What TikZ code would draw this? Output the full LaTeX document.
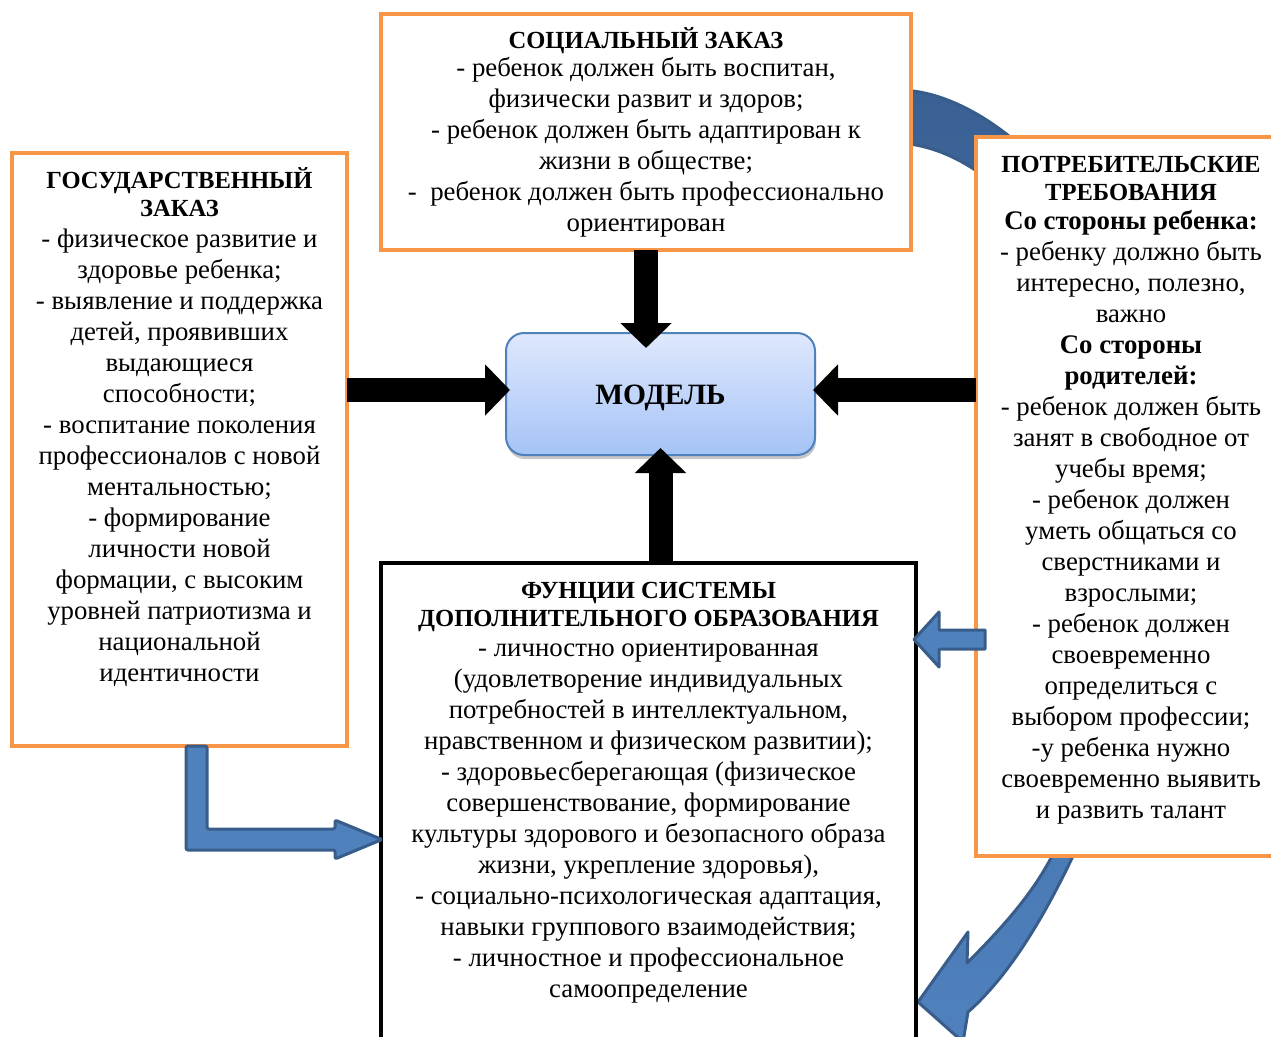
\documentclass[tikz,border=0pt]{standalone}
\usepackage{fontspec}
\setmainfont{Liberation Serif}
\usetikzlibrary{arrows.meta,positioning,shadows}
\definecolor{boxorange}{HTML}{F79646}
\definecolor{arrowblue}{HTML}{4F81BD}
\definecolor{arrowedge}{HTML}{385D8A}
\definecolor{arrowdark}{HTML}{3A6194}
\definecolor{modeltop}{HTML}{DFE8FD}
\definecolor{modelbottom}{HTML}{A5C3F7}
\newcommand{\headsize}{\fontsize{24.6}{28}\selectfont\bfseries}
\newcommand{\bodysize}{\fontsize{26.8}{31}\selectfont}

\tikzset{
  orangebox/.style={draw=boxorange, line width=4pt, fill=white, anchor=north west, inner sep=0pt, outer sep=0pt},
  blackbox/.style={draw=black, line width=4pt, fill=white, anchor=north west, inner sep=0pt, outer sep=0pt},
  modelbox/.style={draw=arrowblue, line width=2pt, rounded corners=18pt, top color=modeltop, bottom color=modelbottom,
    drop shadow={shadow xshift=1pt, shadow yshift=-4pt, opacity=0.45}, font=\fontsize{29.5}{34}\selectfont\bfseries,
    text height=20pt, text depth=0pt, outer sep=0pt},
  headtext/.style={font=\headsize, align=center, inner sep=0pt},
  bodytext/.style={font=\bodysize, align=center, inner sep=0pt},
  blockarrow/.style={line width=24pt, black, -{Triangle[length=25pt,width=50pt]}},
  bluearrow/.style={fill=arrowblue, draw=arrowedge, line width=3pt, line join=round},
  curvearrow/.style={draw=arrowedge, line width=3pt, line join=round, top color=arrowdark, middle color=arrowblue, bottom color=arrowblue}
}

\begin{document}
\begin{tikzpicture}[x=1pt, y=-1pt]
\useasboundingbox (0,0) rectangle (1271,1036);

% curved arrow, mostly hidden behind the consumer box
\path[curvearrow] (900,90) .. controls (1010,92) and (1165,260) .. (1165,480)
  .. controls (1165,660) and (1110,790) .. (1073,856)
  .. controls (1045,915) and (1010,975) .. (968,1012)
  -- (963,1042) -- (918,1002) -- (968,932) -- (967,963)
  .. controls (1000,930) and (1032,895) .. (1052,856)
  .. controls (1090,780) and (1115,650) .. (1115,480)
  .. controls (1115,300) and (1010,150) .. (900,143) -- cycle;

% boxes
\node[orangebox, minimum width=530, minimum height=236] (social) at (381,14) {};
\node[orangebox, minimum width=335, minimum height=593] (govbox) at (12,153) {};
\node[orangebox, minimum width=310, minimum height=719] (consumer) at (976,137) {};
\node[blackbox, minimum width=535, minimum height=560] (func) at (381,563) {};
\node[modelbox, minimum width=309, minimum height=122] (model) at (660.5,394) {МОДЕЛЬ};

% texts
\node[headtext, below=13.8pt of social.north] (socialhead) {\strut СОЦИАЛЬНЫЙ ЗАКАЗ};
\node[bodytext, below=41pt of social.north] (socialtext) {\strut- ребенок должен быть воспитан,\\
  физически развит и здоров;\\
  - ребенок должен быть адаптирован к\\
  жизни в обществе;\\
  - \ ребенок должен быть профессионально\\
  ориентирован};

\node[headtext, below=14pt of govbox.north] (govhead) {\strut ГОСУДАРСТВЕННЫЙ\\ ЗАКАЗ};
\node[bodytext, below=73pt of govbox.north] (govtext) {\strut- физическое развитие и\\
  здоровье ребенка;\\
  - выявление и поддержка\\
  детей, проявивших\\
  выдающиеся\\
  способности;\\
  - воспитание поколения\\
  профессионалов с новой\\
  ментальностью;\\
  - формирование\\
  личности новой\\
  формации, с высоким\\
  уровней патриотизма и\\
  национальной\\
  идентичности};

\node[headtext, below=15.4pt of consumer.north] (consumerhead) {\strut ПОТРЕБИТЕЛЬСКИЕ\\ ТРЕБОВАНИЯ};
\node[bodytext, below=71pt of consumer.north] (consumertext) {\strut\textbf{Со стороны ребенка:}\\
  - ребенку должно быть\\
  интересно, полезно,\\
  важно\\
  \textbf{Со стороны}\\
  \textbf{родителей:}\\
  - ребенок должен быть\\
  занят в свободное от\\
  учебы время;\\
  - ребенок должен\\
  уметь общаться со\\
  сверстниками и\\
  взрослыми;\\
  - ребенок должен\\
  своевременно\\
  определиться с\\
  выбором профессии;\\
  -у ребенка нужно\\
  своевременно выявить\\
  и развить талант};

\node[headtext, below=15.4pt of func.north] (funchead) {\strut ФУНЦИИ СИСТЕМЫ\\ ДОПОЛНИТЕЛЬНОГО ОБРАЗОВАНИЯ};
\node[bodytext, below=71.5pt of func.north] (functext) {\strut- личностно ориентированная\\
  (удовлетворение индивидуальных\\
  потребностей в интеллектуальном,\\
  нравственном и физическом развитии);\\
  - здоровьесберегающая (физическое\\
  совершенствование, формирование\\
  культуры здорового и безопасного образа\\
  жизни, укрепление здоровья),\\
  - социально-психологическая адаптация,\\
  навыки группового взаимодействия;\\
  - личностное и профессиональное\\
  самоопределение};

% black arrows into the model
\coordinate (modelleft) at ([yshift=4pt]model.west);
\coordinate (modelright) at ([yshift=4pt]model.east);
\draw[blockarrow, shorten >=-15pt] (social.south) -- (social.south |- model.north);
\draw[blockarrow, shorten >=-4pt] (govbox.east |- modelleft) -- (modelleft);
\draw[blockarrow, shorten >=-2pt] (consumer.west |- modelright) -- (modelright);
\draw[blockarrow, shorten >=-7pt] (model.south |- func.north) -- (model.south);

% blue arrows into the functions box
\draw[bluearrow, rounded corners=2pt] (186,746) -- (207,746) -- (207,829) -- (335,829) -- (335,820)
  -- (382,839.5) -- (335,859) -- (335,850) -- (186,850) -- cycle;
\draw[bluearrow] (985,630) -- (939,630) -- (939,612) -- (914,639.5) -- (939,667) -- (939,649) -- (985,649) -- cycle;
\end{tikzpicture}
\end{document}
